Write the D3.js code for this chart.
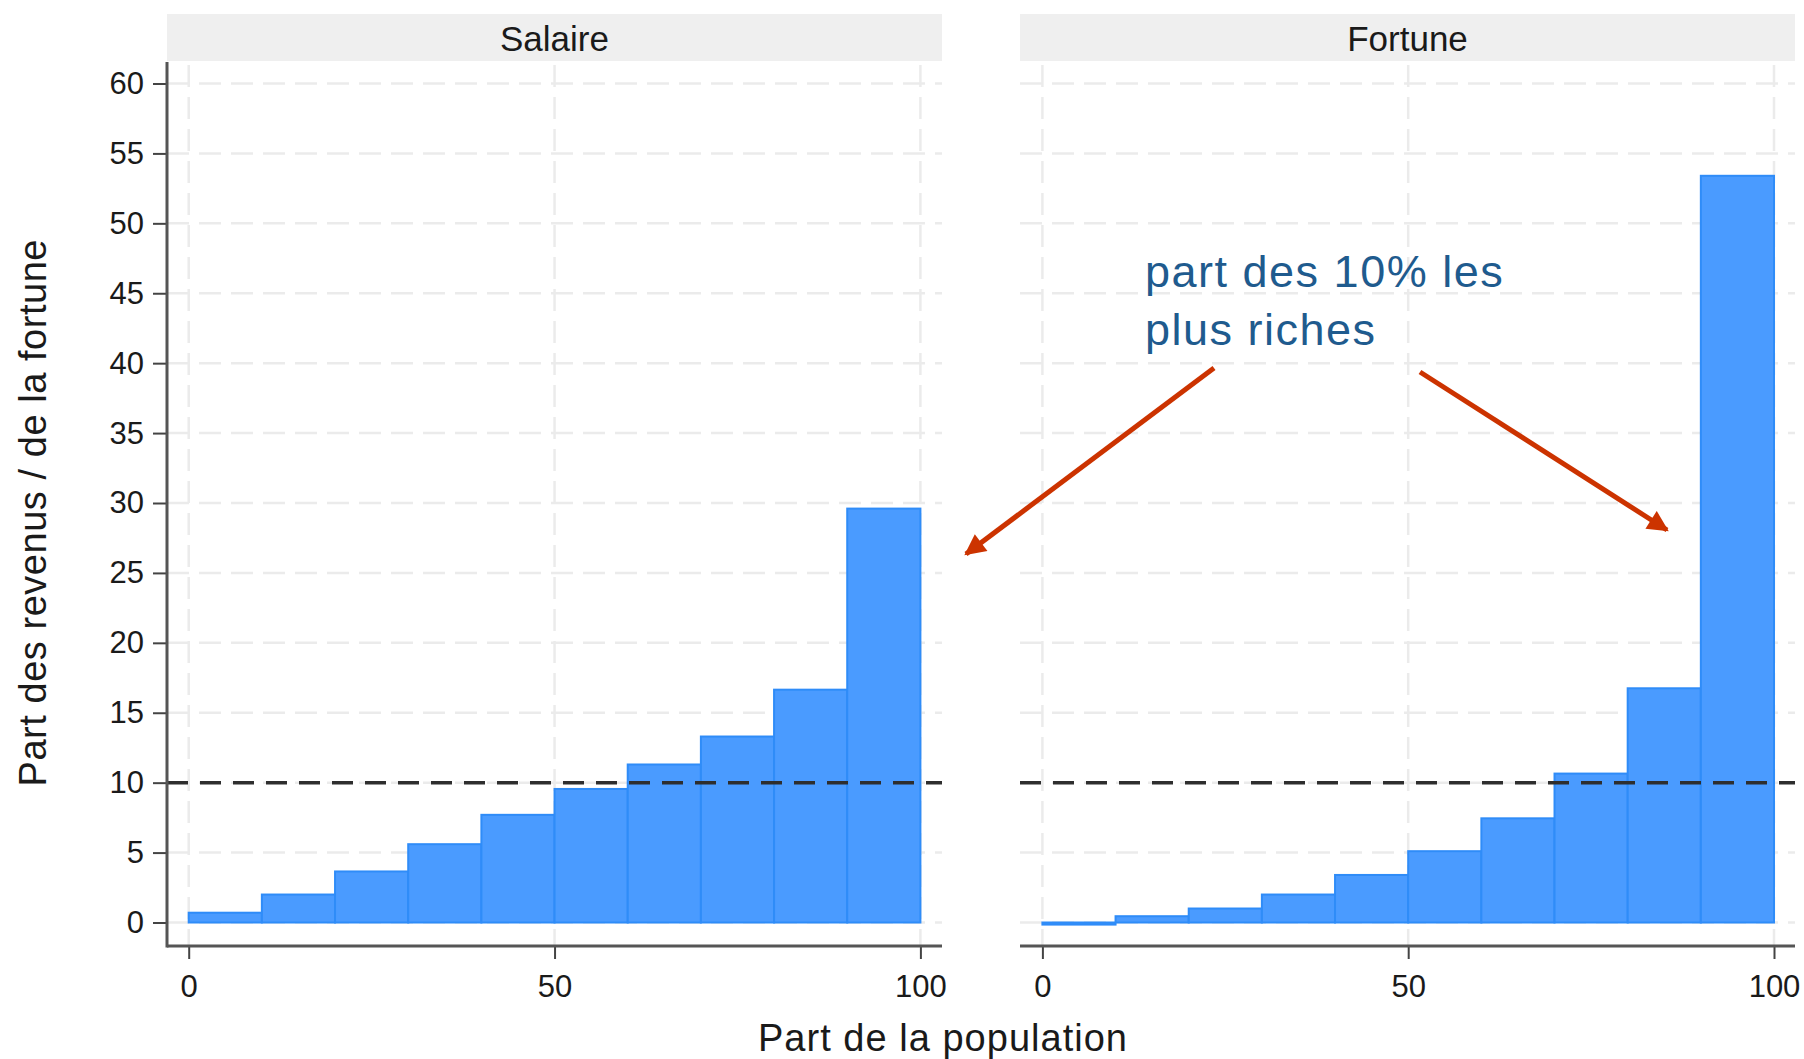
<!DOCTYPE html>
<html>
<head>
<meta charset="utf-8">
<script src="https://cdn.jsdelivr.net/npm/d3@7"></script>
<style>
  html, body { margin: 0; padding: 0; background: #ffffff; }
  svg { display: block; font-family: "Liberation Sans", Arial, sans-serif; }
</style>
</head>
<body>
<svg id="chart" width="1804" height="1059"></svg>
<script>
// ---- data ----
const deciles = [0, 10, 20, 30, 40, 50, 60, 70, 80, 90];          // left edge of each decile bin (% population)
const salaireShares = [0.7, 2.0, 3.65, 5.6, 7.7, 9.55, 11.3, 13.3, 16.65, 29.6];
const fortuneShares = [-0.15, 0.45, 1.0, 2.0, 3.4, 5.1, 7.45, 10.65, 16.75, 53.4];
const panelTitles = ["Salaire", "Fortune"];
const yTicks = [0, 5, 10, 15, 20, 25, 30, 35, 40, 45, 50, 55, 60];
const xTicks = [0, 50, 100];
const refLine = 10;
const xTitle = "Part de la population";
const yTitle = "Part des revenus / de la fortune";
const annotationLines = ["part des 10% les", "plus riches"];

// ---- layout ----
const svg = d3.select("#chart");
const panels = [
  { title: panelTitles[0], values: salaireShares, left: 167, right: 942, x0: 188.7, x1: 920.4 },
  { title: panelTitles[1], values: fortuneShares, left: 1020, right: 1795, x0: 1042.4, x1: 1774 }
];
const stripTop = 14, stripBottom = 61;
const panelBottom = 946;
const y = d3.scaleLinear().domain([0, 60]).range([922.5, 83.5]);

const barFill = "#4a9bff", barStroke = "#2f8cf8";
const gridColor = "#ebebeb";
const fontFam = "Liberation Sans, Arial, sans-serif";

panels.forEach((p, i) => {
  const x = d3.scaleLinear().domain([0, 100]).range([p.x0, p.x1]);
  const g = svg.append("g");

  // strip
  g.append("rect").attr("x", p.left).attr("y", stripTop)
    .attr("width", p.right - p.left).attr("height", stripBottom - stripTop)
    .attr("fill", "#efefef");
  g.append("text").attr("x", (p.left + p.right) / 2).attr("y", 51)
    .attr("text-anchor", "middle").attr("font-size", 35).attr("fill", "#1a1a1a")
    .text(p.title);

  // grid horizontal
  g.selectAll(".hgrid").data(yTicks).enter().append("line")
    .attr("x1", p.left).attr("x2", p.right)
    .attr("y1", d => y(d)).attr("y2", d => y(d))
    .attr("stroke", gridColor).attr("stroke-width", 2.5)
    .attr("stroke-dasharray", "22,10");
  // grid vertical
  g.selectAll(".vgrid").data(xTicks).enter().append("line")
    .attr("x1", d => x(d)).attr("x2", d => x(d))
    .attr("y1", stripBottom + 4).attr("y2", panelBottom)
    .attr("stroke", gridColor).attr("stroke-width", 2.5)
    .attr("stroke-dasharray", "22,10");

  // bars
  g.selectAll(".bar").data(p.values).enter().append("rect")
    .attr("x", (d, j) => x(deciles[j]))
    .attr("width", (d, j) => x(deciles[j] + 10) - x(deciles[j]))
    .attr("y", d => y(Math.max(0, d)))
    .attr("height", d => Math.abs(y(d) - y(0)))
    .attr("fill", barFill).attr("stroke", barStroke).attr("stroke-width", 2);

  // reference line at 10
  g.append("line").attr("x1", p.left).attr("x2", p.right)
    .attr("y1", y(refLine)).attr("y2", y(refLine))
    .attr("stroke", "#2e2e2e").attr("stroke-width", 3.5)
    .attr("stroke-dasharray", "21,12");

  // x axis
  const xAxis = d3.axisBottom(x).tickValues(xTicks).tickSize(13).tickPadding(16)
    .tickFormat(d3.format("d"));
  const ga = g.append("g").attr("transform", `translate(0,${panelBottom})`).call(xAxis);
  ga.select(".domain").remove();
  ga.selectAll(".tick line").attr("stroke", "#444").attr("stroke-width", 2);
  ga.selectAll(".tick text").attr("font-size", 31).attr("fill", "#1a1a1a")
    .attr("font-family", fontFam);
  g.append("line").attr("x1", p.left).attr("x2", p.right)
    .attr("y1", panelBottom).attr("y2", panelBottom)
    .attr("stroke", "#555").attr("stroke-width", 3);

  // y axis (left panel only)
  if (i === 0) {
    const yAxis = d3.axisLeft(y).tickValues(yTicks).tickSize(14).tickPadding(9);
    const gy = g.append("g").attr("transform", `translate(${p.left},0)`).call(yAxis);
    gy.select(".domain").remove();
    gy.selectAll(".tick line").attr("stroke", "#444").attr("stroke-width", 2);
    gy.selectAll(".tick text").attr("font-size", 31).attr("fill", "#1a1a1a")
      .attr("font-family", fontFam);
    g.append("line").attr("x1", p.left).attr("x2", p.left)
      .attr("y1", stripBottom + 1).attr("y2", panelBottom + 1.5)
      .attr("stroke", "#555").attr("stroke-width", 3);
  }
});

// axis titles
svg.append("text").attr("x", 942.5).attr("y", 1051)
  .attr("text-anchor", "middle").attr("font-size", 38).attr("fill", "#1a1a1a")
  .attr("textLength", 369).attr("lengthAdjust", "spacing")
  .text(xTitle);
svg.append("text").attr("transform", "translate(46,513) rotate(-90)")
  .attr("text-anchor", "middle").attr("font-size", 38).attr("fill", "#1a1a1a")
  .attr("textLength", 547).attr("lengthAdjust", "spacing")
  .text(yTitle);

// annotation
const annColor = "#1f5b8e";
svg.selectAll(".ann").data(annotationLines).enter().append("text")
  .attr("x", 1145).attr("y", (d, k) => 287 + k * 58)
  .attr("font-size", 45).attr("letter-spacing", 1.5).attr("fill", annColor)
  .text(d => d);

// arrows
const defs = svg.append("defs");
defs.append("marker").attr("id", "ah").attr("viewBox", "0 0 10 10")
  .attr("refX", 9).attr("refY", 5).attr("markerWidth", 4.4).attr("markerHeight", 4.2)
  .attr("orient", "auto").attr("markerUnits", "strokeWidth")
  .append("path").attr("d", "M0,0 L10,5 L0,10 Z").attr("fill", "#cc3300");
const arrows = [
  { from: [1214, 368], to: [966, 554] },
  { from: [1420, 372], to: [1667, 530] }
];
svg.selectAll(".arrow").data(arrows).enter().append("line")
  .attr("x1", d => d.from[0]).attr("y1", d => d.from[1])
  .attr("x2", d => d.to[0]).attr("y2", d => d.to[1])
  .attr("stroke", "#cc3300").attr("stroke-width", 5)
  .attr("marker-end", "url(#ah)");
</script>
</body>
</html>
